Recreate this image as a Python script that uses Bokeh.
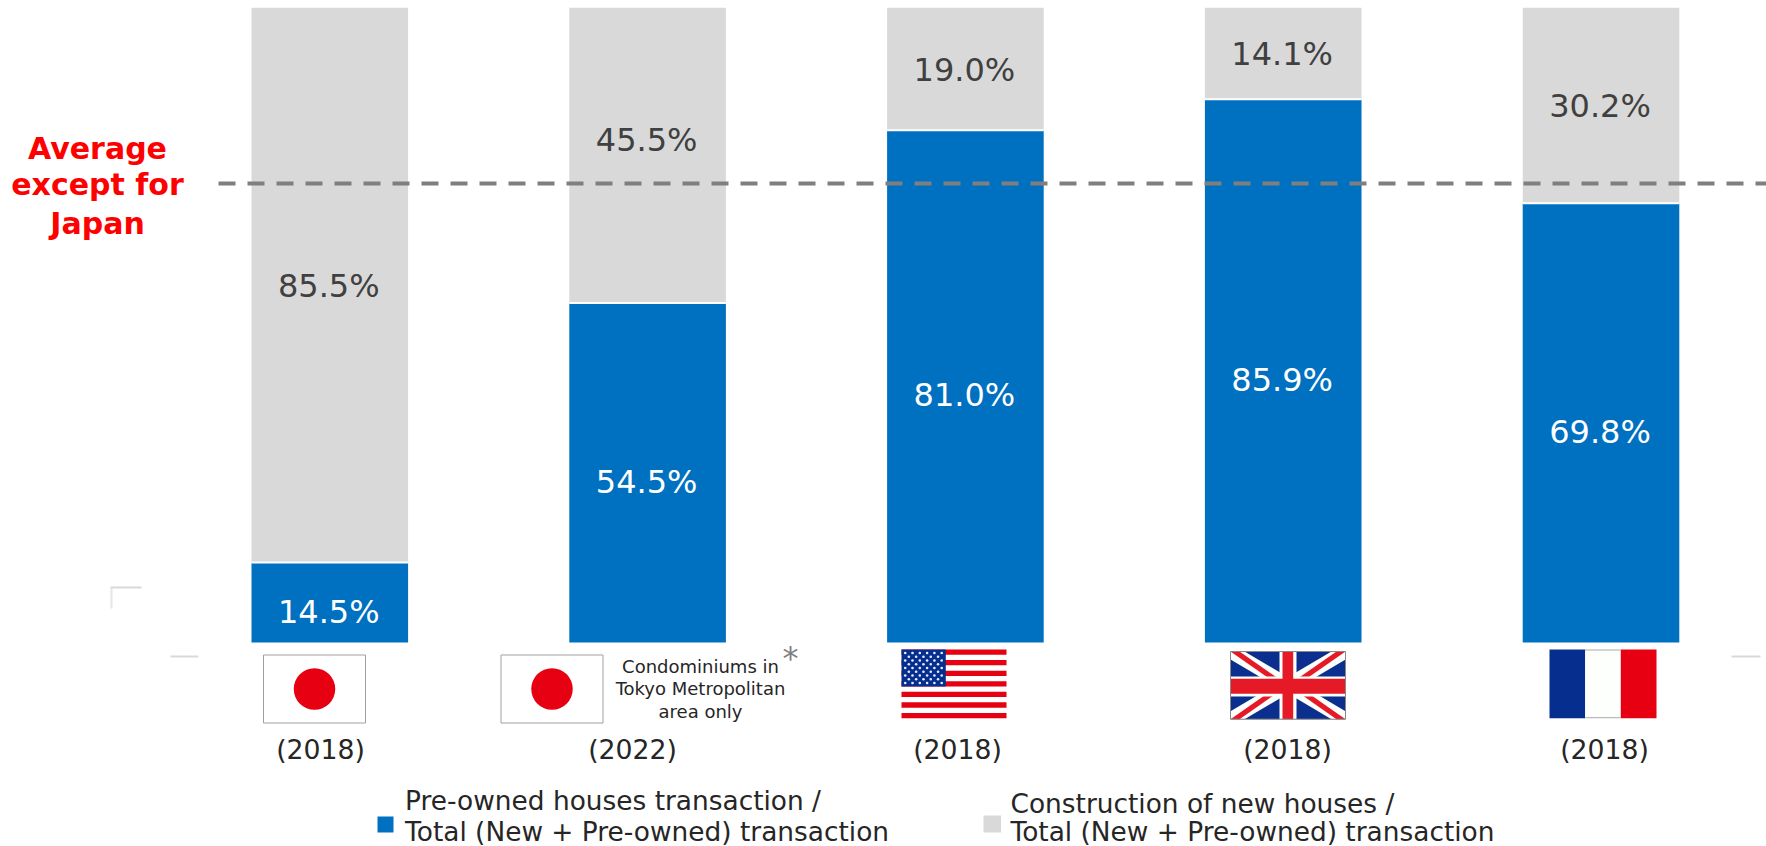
from bokeh.plotting import figure
from bokeh.models import Range1d
from bokeh.core.properties import value
from bokeh.embed import file_html
from bokeh.resources import INLINE

countries = ["Japan", "Japan (Tokyo condominiums)", "USA", "UK", "France"]
years = ["(2018)", "(2022)", "(2018)", "(2018)", "(2018)"]
# Heights (the first bar is drawn lower than its label says)
preowned = [12.6, 53.5, 80.7, 85.6, 69.2]
new_built = [87.4, 46.5, 19.3, 14.4, 30.8]
preowned_labels = ["14.5%", "54.5%", "81.0%", "85.9%", "69.8%"]
new_labels = ["85.5%", "45.5%", "19.0%", "14.1%", "30.2%"]
average_except_japan = 72.3
legend_preowned = ["Pre-owned houses transaction /", "Total (New + Pre-owned) transaction"]
legend_new = ["Construction of new houses /", "Total (New + Pre-owned) transaction"]
average_label = ["Average", "except for", "Japan"]
note_label = ["Condominiums in", "Tokyo Metropolitan", "area only"]

BLUE, GREY, FONT = "#0070c0", "#d9d9d9", value("DejaVu Sans")
FW, FH = 1766, 846
SPACING, C0 = 317.8, 329.3
PER = 6.347

def page_to_i(x):
    return (x - C0) / SPACING

p = figure(width=FW, height=FH, output_backend="svg", toolbar_location=None,
           x_range=Range1d(page_to_i(0), page_to_i(1766)),
           y_range=Range1d((642 - 846) / PER, (642 - 0) / PER),
           min_border=0, outline_line_color=None, background_fill_color="white")
p.xaxis.visible = False
p.yaxis.visible = False
p.grid.visible = False
p.extra_x_ranges = {"px": Range1d(0, 1766)}
p.extra_y_ranges = {"px": Range1d(846, 0)}
PX = dict(x_range_name="px", y_range_name="px")

idx = list(range(len(countries)))
bw = 156.6 / SPACING
p.vbar(x=idx, bottom=0, top=preowned, width=bw, fill_color=BLUE, line_color=None)
p.vbar(x=idx, bottom=preowned, top=[a + b for a, b in zip(preowned, new_built)],
       width=bw, fill_color=GREY, line_color=None)
# thin white seam between the two segments
p.segment(x0=[i - bw / 2 for i in idx], x1=[i + bw / 2 for i in idx], y0=preowned, y1=preowned,
          line_color="white", line_width=2)

# values
blue_mid = [v / 2 for v in preowned]
grey_mid = [a + b / 2 for a, b in zip(preowned, new_built)]
grey_off = [1, -15, 1, 1, 0]
p.text(x=idx, y=blue_mid, text=preowned_labels, text_color="white", text_font=FONT, text_font_size="32px",
       text_align="center", text_baseline="middle", x_offset=-1, y_offset=9)
p.text(x=idx, y=grey_mid, text=new_labels, text_color="#404040", text_font=FONT, text_font_size="32px",
       text_align="center", text_baseline="middle", x_offset=-1, y_offset=grey_off)

# average line
p.line(x=[page_to_i(218), page_to_i(1766)], y=[average_except_japan] * 2, line_color="#7f7f7f",
       line_width=4, line_dash="17 12")
for line, cy in zip(average_label, [147.5, 184, 222.5]):
    p.text(x=[97], y=[cy], text=[line], text_color="#ff0000", text_font=FONT, text_font_style="bold",
           text_font_size="30px", text_align="center", text_baseline="middle", **PX)

# years
for t, cx in zip(years, [320, 632, 957, 1287, 1604]):
    p.text(x=[cx], y=[749], text=[t], text_color="#262626", text_font=FONT, text_font_size="26.7px",
           text_align="center", text_baseline="middle", **PX)

# small decorations
p.segment(x0=[170, 1731, 110], x1=[198, 1760, 141], y0=[656, 656, 587], y1=[656, 656, 587],
          line_color="#d9d9d9", line_width=2, **PX)
p.segment(x0=[111], x1=[111], y0=[587], y1=[608], line_color="#e6e6e6", line_width=2, **PX)

# Japan flags
for x0, x1 in [(263, 365), (500.5, 602.5)]:
    p.quad(left=[x0], right=[x1], top=[654.5], bottom=[722.5], fill_color="white", line_color="#a0a0a0", line_width=1, **PX)
    p.ellipse(x=[(x0 + x1) / 2], y=[688.5], width=[41.5], height=[41.5], fill_color="#e60012", line_color=None, **PX)

# note
for t, cy in zip(note_label, [665.5, 688, 711]):
    p.text(x=[700], y=[cy], text=[t], text_color="#262626", text_font=FONT, text_font_size="18px",
           text_align="center", text_baseline="middle", **PX)
p.text(x=[790], y=[657], text=["*"], text_color="#7f7f7f", text_font=FONT, text_font_size="32px",
       text_align="center", text_baseline="middle", **PX)

# USA flag
ux0, ux1, uy0, uy1 = 901, 1006, 649, 717.7
sh = (uy1 - uy0) / 13
p.quad(left=[ux0], right=[ux1], top=[uy0], bottom=[uy1], fill_color="white", line_color=None, **PX)
for k in range(0, 13, 2):
    p.quad(left=[ux0], right=[ux1], top=[uy0 + k * sh], bottom=[uy0 + (k + 1) * sh], fill_color="#e60012", line_color=None, **PX)
p.quad(left=[ux0], right=[945.3], top=[uy0], bottom=[686], fill_color="#062e8f", line_color=None, **PX)
sx, sy = [], []
for r in range(9):
    n = 6 if r % 2 == 0 else 5
    for c in range(n):
        sx.append(ux0 + 3.7 + c * 7.3 + (0 if r % 2 == 0 else 3.65))
        sy.append(uy0 + 3.5 + r * 3.75)
p.scatter(x=sx, y=sy, size=2.6, marker="circle", fill_color="#e8ecf8", line_color=None, **PX)

# UK flag
kx0, kx1, ky0, ky1 = 1230, 1345, 651, 718.7
UB, UR = "#0a2f8f", "#e61a27"
p.quad(left=[kx0], right=[kx1], top=[ky0], bottom=[ky1], fill_color=UB, line_color=None, **PX)
d, e = 14, 8
p.patches(xs=[[kx0, kx0 + d, kx1, kx1, kx1 - d, kx0], [kx1, kx1 - d, kx0, kx0, kx0 + d, kx1]],
          ys=[[ky0, ky0, ky1 - e, ky1, ky1, ky0 + e], [ky0, ky0, ky1 - e, ky1, ky1, ky0 + e]],
          fill_color="#fcfffc", line_color=None, **PX)
kmx, kmy = (kx0 + kx1) / 2, (ky0 + ky1) / 2
r_d = 9
p.patches(xs=[[kx0, kx0 + r_d, kmx, kmx - r_d], [kx1, kx1 - r_d, kmx, kmx + r_d],
              [kx1, kmx + r_d, kmx, kx1 - r_d], [kx0, kmx - r_d, kmx, kx0 + r_d]],
          ys=[[ky0, ky0, kmy, kmy], [ky1, ky1, kmy, kmy],
              [ky0, kmy, kmy, ky0], [ky1, kmy, kmy, ky1]],
          fill_color=UR, line_color=None, **PX)
p.quad(left=[1279, kx0], right=[1296, kx1], top=[ky0, 676], bottom=[ky1, 696], fill_color="#fcfffc", line_color=None, **PX)
p.quad(left=[1282, kx0], right=[1292.7, kx1], top=[ky0, 678.3], bottom=[ky1, 693.3], fill_color=UR, line_color=None, **PX)
p.quad(left=[kx0], right=[kx1], top=[ky0], bottom=[ky1], fill_color=None, line_color="#888888", line_width=1, **PX)

# France flag
p.quad(left=[1549, 1584.7, 1620.3], right=[1584.7, 1620.3, 1656], top=[649] * 3, bottom=[717.7] * 3,
       fill_color=["#062e8f", "#fcfffc", "#e60012"], line_color=None, **PX)
p.segment(x0=[1584.7, 1584.7], x1=[1620.3, 1620.3], y0=[649.5, 717.2], y1=[649.5, 717.2], line_color="#aaaaaa", line_width=1, **PX)

# legend
p.quad(left=[377], right=[393], top=[816], bottom=[832], fill_color=BLUE, line_color=None, **PX)
p.quad(left=[983], right=[1000.6], top=[815], bottom=[832], fill_color=GREY, line_color=None, **PX)
for t, cy in zip(legend_preowned, [800, 831]):
    p.text(x=[404.6], y=[cy], text=[t], text_color="#262626", text_font=FONT, text_font_size="26.4px",
           text_align="left", text_baseline="middle", **PX)
for t, cy in zip(legend_new, [803, 831]):
    p.text(x=[1010], y=[cy], text=[t], text_color="#262626", text_font=FONT, text_font_size="26.4px",
           text_align="left", text_baseline="middle", **PX)

open("out.html", "w").write(file_html(p, INLINE))
